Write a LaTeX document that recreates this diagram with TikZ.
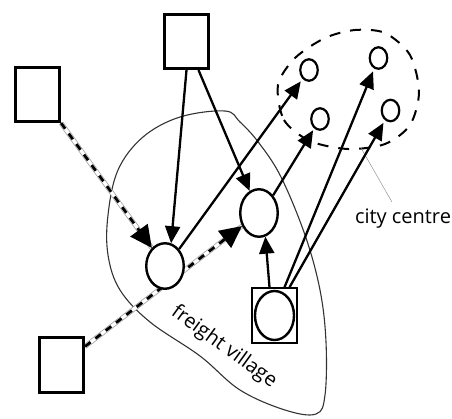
\documentclass[tikz,border=0pt]{standalone}
\usepackage{fontspec}
\setmainfont{Open Sans}
\usetikzlibrary{arrows.meta,shapes.geometric,backgrounds}

\begin{document}
\begin{tikzpicture}[x=1pt,y=-1pt,>={Triangle[length=17pt,width=15pt]},
	depot/.style={draw,line width=2.6pt,minimum width=44.5pt,minimum height=54.5pt,inner sep=0pt},
	hub/.style={draw,ellipse,line width=2.4pt,fill=white,minimum width=37.5pt,minimum height=45.5pt,inner sep=0pt},
	shop/.style={draw,ellipse,line width=2.2pt,minimum width=17.5pt,minimum height=21.5pt,inner sep=0pt},
	road/.style={->,line width=2.3pt},
	railbed/.style={draw=gray!70,line width=0.8pt,double=white,double distance=3.2pt},
	railties/.style={-{Triangle[length=22pt,width=21pt]},line width=2.8pt,dash pattern=on 7pt off 6pt},
	areatext/.style={font=\fontsize{20}{23}\selectfont,inner sep=2pt}]
					\useasboundingbox (0,0) rectangle (452,418);

					\node (LB) [depot] at (37.5,94.5) {};
					\node (TB) [depot] at (186.5,41.5) {};
					\node (BL) [depot] at (61.5,365) {};
					\node (SQ) [depot,line width=2pt] at (274.5,315.5) {};
					\node (SQc) [hub,minimum width=39pt,minimum height=49pt] at (SQ) {};
					\node (A) [hub] at (165,266) {};
					\node (B) [hub,minimum height=47.5pt] at (259,213) {};
					\node (C1) [shop] at (309,70) {};
					\node (C2) [shop] at (378.5,58) {};
					\node (C3) [shop] at (320,119) {};
					\node (C4) [shop] at (390.5,110.5) {};
					\coordinate (cc) at (361,148);
					\node (cclabel) [areatext] at (403,219) {city centre};
					\node (fvlabel) [areatext,rotate=-36] at (224,347) {freight village};

					\begin{scope}[on background layer]
						% freight village
						\draw[line width=1.1pt,black!80] plot[smooth cycle,tension=0.6] coordinates {(225,111) (180,117) (143,137) (118,170) (108,215) (108,255) (120,290) (150,322) (200,356) (240,390) (285,410) (316,414) (325,395) (326,342) (320,290) (305,235) (281,177) (259,143) (240,122)};
						% city centre
						\draw[line width=2pt,dash pattern=on 11pt off 10pt] plot[smooth cycle] coordinates {(278,85) (284,120) (310,141) (348,149) (385,144) (410,125) (419,92) (410,55) (385,33) (355,30) (325,38) (295,58)};
						\path (LB.south east) edge[railbed] (A);
						\path (LB.south east) edge[railties] (A);
						\path ([yshift=-10pt]BL.north east) edge[railbed] (B);
						\path ([yshift=-10pt]BL.north east) edge[railties] (B);
					\end{scope}

					\draw[thin,gray] (cc) -- ([xshift=-11pt,yshift=5pt]cclabel.north);

					\path[road] (TB.south) edge (A.75);
					\path[road] ([xshift=12pt]TB.south) edge (B);
					\path[road] (A.north east) edge[shorten >=3pt] (C1);
					\path[road] (B.north east) edge[shorten >=2pt] (C3);
					\path[road] ([xshift=-5pt]SQ.north) edge (B.-75);
					\path[road] ([xshift=10pt]SQ.north) edge[shorten >=3pt] (C2);
					\path[road] ([xshift=15pt]SQ.north) edge[shorten >=3pt] (C4);
				\end{tikzpicture}
\end{document}
